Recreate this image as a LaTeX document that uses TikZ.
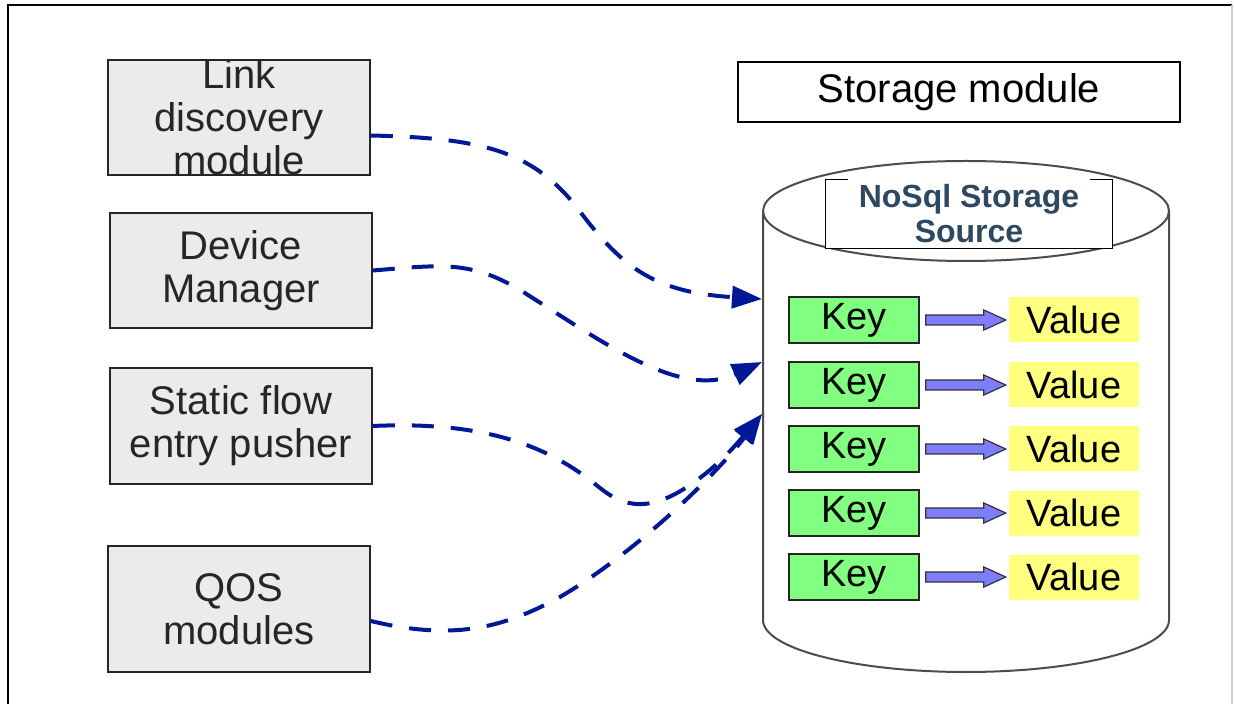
\documentclass[tikz,border=0pt]{standalone}
\usepackage{fontspec}
\setmainfont{Liberation Sans}
\usetikzlibrary{arrows.meta}
\definecolor{modgray}{RGB}{235,235,235}
\definecolor{linkblue}{RGB}{0,24,150}
\definecolor{keygreen}{RGB}{128,255,128}
\definecolor{valyellow}{RGB}{255,255,128}
\definecolor{kvblue}{RGB}{125,125,255}
\definecolor{nosqltext}{RGB}{45,72,96}
\begin{document}
\begin{tikzpicture}[x=0.5pt,y=-0.5pt,
  module/.style={draw=black!85,line width=0.8pt,fill=modgray,minimum width=131pt,align=center,inner sep=0pt,font=\fontsize{20}{21.5}\selectfont,text=black!85},
  keybox/.style={draw=black!85,line width=0.8pt,fill=keygreen,minimum width=65pt,minimum height=23pt,inner sep=0pt,font=\fontsize{19}{20}\selectfont},
  valbox/.style={fill=valyellow,minimum width=65pt,minimum height=22.5pt,inner sep=0pt,font=\fontsize{19}{20}\selectfont},
  link/.style={draw=linkblue,line width=2pt,dash pattern=on 11pt off 8.5pt,-{Triangle[length=15pt,width=11pt]}},
  kvarrow/.style={draw=black!80,line width=0.6pt,fill=kvblue}]
\useasboundingbox (0,0) rectangle (1234,704);
\draw[line width=1pt] (8,704) -- (8,5) -- (1232,5);
\draw[gray!40,line width=0.8pt] (1232,5) -- (1232,704);
% storage side
\draw[gray!60!black,line width=1pt,fill=white] (763,211) -- (763,620) arc[start angle=180,end angle=0,x radius=203,y radius=52] -- (1169,211);
\draw[gray!60!black,line width=1pt,fill=white] (966,211) ellipse[x radius=203,y radius=50];
\node[fill=white,minimum width=143pt,minimum height=34pt,inner sep=0pt,align=center,font=\bfseries\fontsize{16}{17.5}\selectfont,text=nosqltext] (nosql) at (969,214) {NoSql Storage\\Source};
\draw[line width=0.8pt] ([xshift=11pt]nosql.north west) -- (nosql.north west) -- (nosql.south west) -- (nosql.south east) -- (nosql.north east) -- ([xshift=-11pt]nosql.north east);
\node[draw,line width=0.8pt,minimum width=221pt,minimum height=30pt,font=\fontsize{20}{22}\selectfont] (storage) at (959,92) {Storage module};
\foreach \i/\ky in {1/320,2/385,3/449,4/513,5/577}{
  \node[keybox] (k\i) at (854,\ky) {Key};
  \node[valbox] (v\i) at (1074,\ky) {Value};
  \draw[kvarrow] ([xshift=3pt,yshift=2.5pt]k\i.east) -- ++(29pt,0) -- ++(0,2.5pt) -- ++(11pt,-5pt) -- ++(-11pt,-5pt) -- ++(0,2.5pt) -- ++(-29pt,0) -- cycle;
}
% modules
\node[module,minimum height=57.5pt] (linkdisc) at (239,117.5) {Link\\discovery\\module};
\node[module,minimum height=57.5pt] (devmgr) at (241,270.5) {Device\\Manager};
\node[module,minimum height=58pt] (static) at (241,426) {Static flow\\entry pusher};
\node[module,minimum height=63pt] (qos) at (239,609) {QOS\\modules};
\coordinate (in1) at (762,299); \coordinate (in2) at (762,362); \coordinate (in3) at (762,414);
\draw[link] ([yshift=-9pt]linkdisc.east) .. controls (480,138) and (530,150) .. (575,205) .. controls (620,265) and (650,292) .. (in1);
\draw[link] (devmgr.east) .. controls (440,265) and (470,260) .. (520,290) .. controls (600,340) and (680,400) .. (in2);
\draw[link] (static.east) .. controls (500,420) and (560,455) .. (600,488) .. controls (625,508) and (650,512) .. (690,485) .. controls (720,465) and (740,440) .. (in3);
\draw[link] ([yshift=-6pt]qos.east) .. controls (450,640) and (500,630) .. (560,597) .. controls (640,550) and (720,470) .. (in3);
\end{tikzpicture}
\end{document}
